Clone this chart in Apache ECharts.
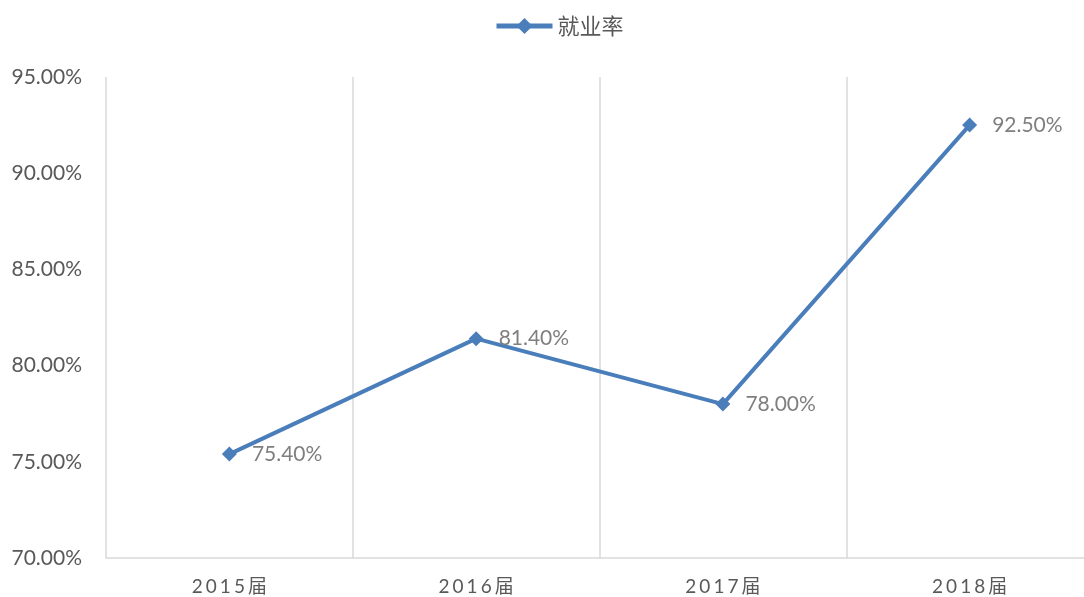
<!DOCTYPE html>
<html>
<head>
<meta charset="utf-8">
<script src="https://cdn.jsdelivr.net/npm/echarts@6/dist/echarts.min.js"></script>
<style>
  html, body { margin: 0; padding: 0; background: #fff; }
  #main { width: 1084px; height: 597px; }
</style>
</head>
<body>
<div id="main"></div>
<script>
// 就业率折线
var categories = ['2015届', '2016届', '2017届', '2018届'];
var rateValues = [75.4, 81.4, 78.0, 92.5];
var seriesName = '就业率';

var chart = echarts.init(document.getElementById('main'));
chart.setOption({
  animation: false,
  legend: {
    top: 10,
    left: 489,
    itemWidth: 56,
    itemHeight: 20,
    itemGap: 4,
    lineStyle: { width: 5 },
    itemStyle: { color: '#4a7ebb' },
    textStyle: {
      fontFamily: 'Noto Sans CJK SC',
      fontSize: 22,
      color: '#595959'
    },
    data: [seriesName]
  },
  grid: {
    left: 106,
    top: 77,
    width: 987,
    height: 481,
    outerBoundsMode: 'none',
    containLabel: false
  },
  xAxis: {
    type: 'category',
    data: categories,
    boundaryGap: true,
    axisLine: { lineStyle: { color: '#d9d9d9', width: 1.5 } },
    axisTick: { show: false },
    splitLine: { show: true, lineStyle: { color: '#d9d9d9', width: 1.5 } },
    axisLabel: {
      margin: 19,
      color: '#595959',
      // 字间距稍宽
      formatter: function (v) {
        return v.split('').map(function (c) { return '{c|' + c + '}'; }).join('');
      },
      rich: {
        c: {
          fontFamily: 'Lato, Noto Sans CJK SC',
          fontSize: 19,
          color: '#595959',
          padding: [0, 1.5, 0, 1.5]
        }
      }
    }
  },
  yAxis: {
    type: 'value',
    min: 70,
    max: 95,
    interval: 5,
    axisLine: { show: false },
    axisTick: { show: false },
    splitLine: { show: false },
    axisLabel: {
      margin: 24,
      fontFamily: 'Lato',
      fontSize: 21,
      color: '#595959',
      formatter: function (v) { return v.toFixed(2) + '%'; }
    }
  },
  series: [{
    name: seriesName,
    type: 'line',
    data: rateValues,
    symbol: 'diamond',
    symbolSize: 15,
    itemStyle: { color: '#4a7ebb' },
    lineStyle: { color: '#4a7ebb', width: 4 },
    label: {
      show: true,
      position: 'right',
      distance: 15,
      fontFamily: 'Lato',
      fontSize: 21,
      color: '#7f7f7f',
      formatter: function (p) { return p.value.toFixed(2) + '%'; }
    }
  }]
});
</script>
</body>
</html>
